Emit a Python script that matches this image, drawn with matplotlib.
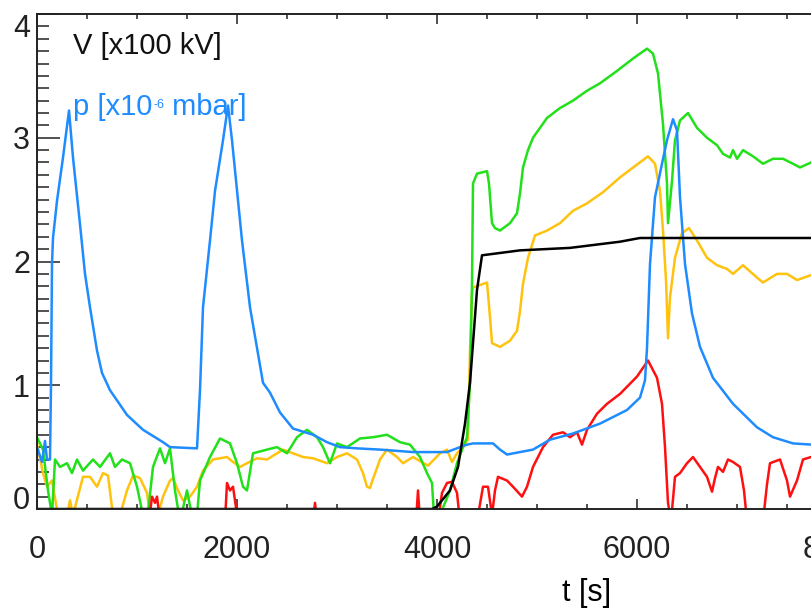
import matplotlib
matplotlib.use("Agg")
import matplotlib.pyplot as plt
from matplotlib.ticker import MultipleLocator

plt.rcParams['font.family'] = ['Liberation Sans', 'DejaVu Sans']

# Spannung V [x100 kV]
v_t = [0, 3950, 4000, 4130, 4210, 4280, 4330, 4360, 4400, 4450, 4830, 5330, 5830, 6030, 8000]
v_val = [0, 0, 0.02, 0.15, 0.34, 0.69, 1.02, 1.34, 1.77, 2.05, 2.09, 2.11, 2.16, 2.19, 2.19]

# Druck p [x10^-6 mbar]
p_t = [0, 50, 80, 100, 130, 140, 150, 160, 200, 260, 320, 360, 430, 480, 530, 600, 650, 730,
       900, 1060, 1260, 1330, 1600, 1630, 1660, 1730, 1780, 1860, 1910, 1950, 2050, 2130,
       2260, 2330, 2430, 2560, 2760, 2900, 3030, 3200, 3430, 3760, 4100, 4230, 4300, 4360,
       4560, 4630, 4700, 4960, 5130, 5360, 5630, 5900, 6030, 6080, 6100, 6130, 6180, 6250,
       6300, 6360, 6400, 6430, 6480, 6550, 6630, 6760, 6960, 7200, 7360, 7560, 7750, 8000]
p_val = [0.50, 0.38, 0.55, 0.40, 0.40, 1.0, 1.98, 2.19, 2.49, 2.84, 3.22, 2.84, 2.3, 1.9, 1.63,
         1.28, 1.10, 0.96, 0.76, 0.64, 0.54, 0.50, 0.49, 0.96, 1.63, 2.17, 2.57, 2.98, 3.26,
         2.98, 2.17, 1.63, 1.02, 0.94, 0.78, 0.65, 0.60, 0.54, 0.50, 0.49, 0.48, 0.46, 0.46,
         0.50, 0.52, 0.53, 0.53, 0.48, 0.44, 0.48, 0.56, 0.61, 0.69, 0.80, 0.90, 1.04, 1.3,
         1.98, 2.52, 2.79, 2.98, 3.15, 3.06, 2.52, 1.98, 1.58, 1.31, 1.06, 0.85, 0.66, 0.58,
         0.53, 0.52, 0.50]

# gruene Kurve
g_t = [0, 60, 110, 150, 180, 230, 300, 350, 400, 460, 560, 630, 730, 780, 850, 930, 1000, 1060,
       1100, 1160, 1230, 1280, 1330, 1380, 1430, 1500, 1560, 1600, 1630, 1730, 1830, 1930, 2000,
       2060, 2100, 2160, 2300, 2400, 2500, 2600, 2700, 2800, 2860, 2930, 3000, 3100, 3230, 3360,
       3500, 3630, 3730, 3830, 3900, 3950, 3970, 4030, 4130, 4200, 4260, 4300, 4330, 4350, 4360,
       4400, 4500, 4520, 4550, 4580, 4630, 4730, 4800, 4830, 4860, 4910, 4960, 5030, 5100, 5230,
       5360, 5500, 5630, 5800, 5960, 6100, 6160, 6210, 6260, 6300, 6310, 6350, 6380, 6430, 6510,
       6600, 6700, 6800, 6860, 6930, 6960, 7000, 7060, 7160, 7260, 7360, 7460, 7560, 7630, 7740]
g_val = [0.58, 0.48, 0.15, -0.05, 0.40, 0.34, 0.37, 0.29, 0.40, 0.31, 0.40, 0.34, 0.45, 0.34,
         0.40, 0.37, 0.18, -0.05, -0.1, 0.34, 0.49, 0.37, 0.49, 0.15, -0.1, 0.15, -0.1, -0.05,
         0.23, 0.42, 0.57, 0.53, 0.37, 0.18, 0.15, 0.45, 0.48, 0.50, 0.45, 0.58, 0.64, 0.58, 0.50,
         0.37, 0.53, 0.50, 0.57, 0.58, 0.60, 0.54, 0.52, 0.42, 0.29, 0.21, -0.05, -0.05, 0.15,
         0.37, 0.50, 0.58, 1.02, 1.82, 2.63, 2.71, 2.73, 2.63, 2.31, 2.27, 2.25, 2.31, 2.39, 2.55,
         2.76, 2.90, 3.00, 3.08, 3.16, 3.24, 3.30, 3.38, 3.44, 3.54, 3.64, 3.72, 3.68, 3.52, 3.11,
         2.63, 2.31, 2.65, 2.98, 3.14, 3.20, 3.08, 3.00, 2.94, 2.87, 2.84, 2.90, 2.83, 2.90, 2.85,
         2.79, 2.83, 2.83, 2.79, 2.76, 2.80]

# gelbe Kurve
o_t = [0, 60, 100, 150, 210, 300, 330, 360, 460, 530, 600, 660, 710, 760, 830, 900, 960, 1030,
       1100, 1130, 1210, 1260, 1330, 1360, 1410, 1460, 1530, 1600, 1660, 1760, 1900, 1960, 2030,
       2100, 2200, 2300, 2460, 2560, 2660, 2760, 2900, 3000, 3100, 3200, 3260, 3300, 3330, 3350,
       3430, 3500, 3600, 3660, 3760, 3910, 4030, 4100, 4150, 4200, 4260, 4310, 4330, 4350, 4360,
       4500, 4530, 4550, 4630, 4730, 4800, 4830, 4860, 4910, 4980, 5100, 5230, 5360, 5500, 5660,
       5830, 6110, 6180, 6230, 6260, 6290, 6310, 6330, 6380, 6450, 6520, 6600, 6700, 6800, 6900,
       6960, 7060, 7200, 7260, 7400, 7500, 7600, 7740]
o_val = [0.53, 0.29, 0.18, 0.23, -0.05, -0.05, 0.07, -0.05, 0.26, 0.26, 0.18, 0.29, 0.27, -0.05,
         -0.05, 0.15, 0.27, 0.25, 0.13, -0.05, -0.05, 0.10, 0.23, 0.25, 0.15, 0.07, 0.10, 0.18,
         0.31, 0.40, 0.42, 0.38, 0.34, 0.37, 0.41, 0.40, 0.48, 0.45, 0.42, 0.41, 0.37, 0.42, 0.45,
         0.40, 0.29, 0.18, 0.17, 0.22, 0.40, 0.48, 0.42, 0.37, 0.42, 0.35, 0.45, 0.48, 0.38, 0.45,
         0.50, 0.56, 1.28, 1.74, 1.79, 1.83, 1.55, 1.34, 1.31, 1.36, 1.44, 1.60, 1.82, 2.03, 2.21,
         2.25, 2.31, 2.41, 2.47, 2.56, 2.68, 2.85, 2.79, 2.57, 2.25, 1.85, 1.38, 1.71, 2.03, 2.23,
         2.27, 2.17, 2.03, 1.97, 1.94, 1.90, 1.97, 1.87, 1.83, 1.90, 1.90, 1.85, 1.89]

# rote Kurve
r_t = [0, 1120, 1150, 1180, 1200, 1230, 1880, 1900, 1930, 1960, 2010, 2760, 2780, 2800, 3790,
       3810, 3830, 4010, 4050, 4100, 4150, 4200, 4230, 4400, 4460, 4510, 4550, 4580, 4610, 4700,
       4760, 4850, 4900, 4960, 5060, 5160, 5260, 5330, 5400, 5450, 5500, 5600, 5700, 5830, 6000,
       6110, 6200, 6250, 6280, 6310, 6340, 6380, 6430, 6500, 6560, 6630, 6700, 6750, 6780, 6810,
       6860, 6910, 6960, 7030, 7070, 7100, 7260, 7300, 7330, 7430, 7500, 7530, 7600, 7660, 7740, 7800]
r_val = [-0.1, -0.1, 0.10, 0.05, 0.10, -0.1, -0.1, 0.21, 0.15, 0.18, -0.1, -0.1, 0.05, -0.1,
         -0.1, 0.15, -0.1, -0.1, 0.13, 0.21, 0.22, 0.13, -0.1, -0.1, 0.18, 0.18, -0.05, 0.15,
         0.26, 0.23, 0.18, 0.10, 0.18, 0.34, 0.50, 0.60, 0.62, 0.58, 0.62, 0.52, 0.64, 0.77, 0.85,
         0.93, 1.07, 1.20, 1.06, 0.85, 0.50, 0.05, -0.1, 0.26, 0.29, 0.37, 0.42, 0.34, 0.26, 0.14,
         0.25, 0.34, 0.30, 0.40, 0.38, 0.34, 0.15, -0.1, -0.1, 0.2, 0.37, 0.40, 0.23, 0.10, 0.23,
         0.40, 0.42, 0.42]

blue = '#1E8CFF'

fig = plt.figure(figsize=(8.12, 6.15), dpi=100)
ax = fig.add_axes([37 / 812, 106 / 615, 1100 / 812, 495 / 615])

lw = 1.8
ax.plot(o_t, o_val, color='#FFC20E', lw=lw)
ax.plot(g_t, g_val, color='#22E01A', lw=lw)
ax.plot(r_t, r_val, color='#FF1010', lw=lw)
ax.plot(p_t, p_val, color=blue, lw=lw)
ax.plot(v_t, v_val, color='black', lw=lw)

ax.set_xlim(0, 11000)
ax.set_ylim(0, 4)
ax.set_xticks([0, 2000, 4000, 6000, 8000, 10000])
ax.set_yticks([0, 1, 2, 3, 4])
ax.xaxis.set_minor_locator(MultipleLocator(500))
ax.yaxis.set_minor_locator(MultipleLocator(0.1))

ax.tick_params(axis='both', which='both', direction='in', width=1.1, labelsize=22,
               top=True, colors='#222222')
ax.tick_params(axis='y', which='major', length=16.5, pad=5)
ax.tick_params(axis='y', which='minor', length=8.5)
ax.tick_params(axis='x', which='major', length=7, pad=19)
ax.tick_params(axis='x', which='minor', length=3.5)

for sp in ax.spines.values():
    sp.set_linewidth(1.4)
    sp.set_color('#222222')

ylabels = ax.get_yticklabels()
ylabels[0].set_verticalalignment('baseline')
ylabels[-1].set_verticalalignment('top')

ax.set_xlabel('t [s]', fontsize=22, labelpad=9)

ax.text(360, 3.68, 'V [x100 kV]', fontsize=21, color='#111111', va='baseline')

# p-Beschriftung mit kleinem Exponenten
t1 = ax.text(360, 3.18, 'p [x10', fontsize=21, color=blue, va='baseline')
sup = ax.annotate('-6', xy=(1, 1), xycoords=t1, xytext=(0.5, -4), textcoords='offset points',
                  fontsize=9, color=blue, va='top', ha='left')
ax.annotate(' mbar]', xy=(1, 0), xycoords=(sup, t1), fontsize=21, color=blue,
            va='bottom', ha='left')

fig.savefig('out.png', dpi=100)
